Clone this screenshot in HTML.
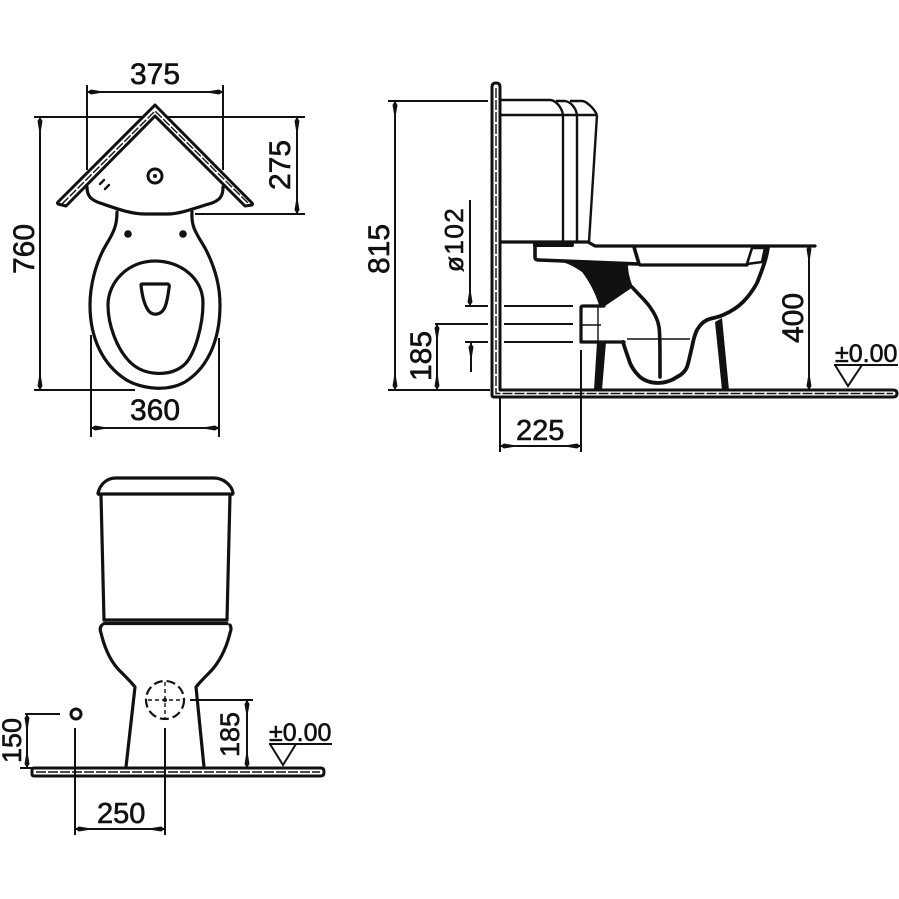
<!DOCTYPE html>
<html>
<head>
<meta charset="utf-8">
<style>
html,body{margin:0;padding:0;background:#fff}
svg{display:block}
text{font-family:"Liberation Sans",sans-serif;font-size:30px;fill:#111;stroke:#111;stroke-width:.6px}
.t{font-size:25px}
.a{fill:none;stroke:#111;stroke-width:3.2;stroke-linejoin:round;stroke-linecap:round}
.b{fill:none;stroke:#111;stroke-width:2.4;stroke-linejoin:round}
.d{fill:none;stroke:#111;stroke-width:2}
.th{fill:none;stroke:#111;stroke-width:1.4}
.m{fill:none;stroke:#111;stroke-width:2;marker-start:url(#l);marker-end:url(#l)}
.w{fill:none;stroke:#111;stroke-width:3;stroke-linejoin:round}
</style>
</head>
<body>
<svg width="899" height="899" viewBox="0 0 899 899" xmlns="http://www.w3.org/2000/svg">
<defs>
<marker id="l" markerUnits="userSpaceOnUse" markerWidth="14" markerHeight="7" refX="13" refY="3.5" orient="auto-start-reverse">
<path d="M0,2.500 L9,1 L13,3.500 L9,6 L0,4.500 Z" fill="#111"/>
</marker>
</defs>

<!-- TOP VIEW dimensions -->
<path class="d" d="M87,85V170M223,85V170M34,117H143M168,117H305M195,214H305M34,390H135M91,335V437M219,338V437"/>
<path class="m" d="M87,92H223"/>
<path class="m" d="M297,117V214"/>
<path class="m" d="M40,117V390"/>
<path class="m" d="M91,428H219"/>
<text x="130" y="84">375</text>
<text x="130" y="420">360</text>
<text transform="translate(290,190) rotate(-90)">275</text>
<text transform="translate(34,274) rotate(-90)">760</text>

<!-- TOP VIEW wall -->
<path class="w" d="M66,206L58,204Q57,203 58,202L155,105L252,203Q253,204 252,205L245,206L155,116Z"/>
<path class="th" stroke-dasharray="9 2" d="M62,204L155,111L249,204"/>
<!-- tank -->
<path class="a" d="M87,187C87,196 91,200 100,203C115,208 130,214 145,214H168C180,214 195,208 212,203C220,200 223,196 223,187"/>
<circle cx="155" cy="176" r="7" fill="none" stroke="#111" stroke-width="3"/>
<circle cx="155" cy="176" r="2" fill="#111"/>
<path class="a" style="stroke-width:2.400" d="M100,184L104,180M105,189L109,185"/>
<!-- bowl -->
<path class="a" d="M117,212C117,225 114,232 106,245C96,262 90,285 90,305C90,340 104,365 125,379C140,389 170,393 188,380C208,366 220,340 220,305C220,285 214,265 205,248C197,234 191,228 192,212"/>
<path class="a" d="M155,261C128,261 108,282 108,305C108,325 117,350 131,363C145,376 170,377 184,365C195,355 203,325 203,303C203,278 180,261 155,261Z"/>
<path class="a" d="M141,285Q141,284 143,284L168,284Q170,285 169,288C168,296 167,302 165,307C161,316 152,316 148,310C144,304 142,295 141,285Z"/>
<circle cx="128" cy="234" r="3.800" fill="#111"/>
<circle cx="183" cy="234" r="3.800" fill="#111"/>

<!-- SIDE VIEW dimensions -->
<path class="d" d="M388,101H488M388,390H490M465,306H488M504,306H573M435,324H488M504,324H573M465,342H488M504,342H573M500,397V452M581,350V452"/>
<path class="d" d="M395,101V390" style="marker-start:url(#l);marker-end:url(#l)"/>
<path class="d" d="M470,200V306" style="marker-end:url(#l)"/>
<path class="m" d="M437,324V390"/>
<path class="d" d="M471,372V343" style="marker-end:url(#l)"/>
<path class="m" d="M500,446H581"/>
<path class="m" d="M809,245V390"/>
<text transform="translate(389,274) rotate(-90)">815</text>
<text transform="translate(431,381) rotate(-90)">185</text>
<text class="t" transform="translate(463,272) rotate(-90)" style="font-size:26px;letter-spacing:1.500px">ø102</text>
<text x="516" y="440" style="font-size:29px">225</text>
<text transform="translate(803,343) rotate(-90)">400</text>
<text x="835" y="362" class="t">±0.00</text>
<path class="d" d="M834,365H898M835,365L848,386L862,365"/>

<!-- wall + floor -->
<path class="w" d="M492,87Q492,83 496,83Q500,83 500,87V390H893Q897,390 897,393.500Q897,397 893,397H494Q492,397 492,395Z"/>
<path class="th" stroke-dasharray="10 2" d="M496,88V393.500H893"/>

<!-- tank side -->
<path class="b" d="M500,100H550C556,100 562,108 563,115M556,101H565C571,102 576,108 577,115M570,101H582C586,101 594,108 597,115"/>
<path class="b" d="M500,115H597"/>
<path class="b" d="M563,115V242M577,115V242M597,115L589,242"/>
<path class="a" d="M500,242H588L595,246H815"/>

<!-- bowl side -->
<path class="a" style="stroke-width:3.600" d="M535,243V257Q535,260 539,260L637,264M634,247L639,264"/>
<path class="a" style="stroke-width:4" d="M535,245H572"/>
<path d="M562,262L628,265C628,272 630,280 633,287L605,306L600,308C597,298 592,285 582,272C576,268 570,264 562,262Z" fill="#111"/>
<path class="a" style="stroke-width:3.200" d="M640,265H747"/>
<path class="a" style="stroke-width:2.600" d="M747,264L752,248H765L762,262L747,264"/>
<path class="a" style="stroke-width:3.800" d="M768,247C767,255 765,263 757,283C752,292 748,297 743,302C737,308 730,312 723,315C716,318 711,318 707,320C701,323 699,327 697,330C694,336 693,342 692,347C690,355 689,361 687,367C685,372 681,375 677,377C671,381 665,383 658,383C651,383 645,381 640,377C635,372 632,368 630,363C628,357 625,349 623,342"/>
<path class="a" style="stroke-width:3.600" d="M632,287C638,294 645,300 650,307C655,314 658,320 659,327C660,335 660,345 660,377"/>
<path class="a" d="M604,306H583Q581,306 581,308V342H624"/>
<path class="th" d="M598,306V342M581,325H601"/>
<path class="th" d="M627,339H690"/>
<path d="M597,342H606L602,390H594Z" fill="#111"/>
<path d="M715,322L722,318L729,390H722Z" fill="#111"/>

<!-- FRONT VIEW -->
<path class="a" d="M98,493C100,485 106,478 116,478H214C224,478 232,486 233,493Q233,495 230,494H100Q98,495 98,493Z"/>
<path class="a" d="M101,495L104,620M230,495L227,620"/>
<path class="a" d="M104,620H227M104,623.500H227"/>
<path class="a" d="M102,625Q99,628 101,633C105,650 112,664 122,673C127,678 131,682 135,687L126,767"/>
<path class="a" d="M230,625Q232,628 230,633C226,650 218,664 210,672C205,677 200,682 196,687L204,767"/>
<circle cx="165" cy="700" r="19" fill="none" stroke="#111" stroke-width="2.200" stroke-dasharray="9 4"/>
<path class="th" stroke-dasharray="4 3" d="M148,700H182M165,682V718"/>
<circle cx="165" cy="700" r="2" fill="#111"/>
<path class="w" d="M34,768H321Q324,768 324,772Q324,776 321,776H34Q32,776 32,774V770Q32,768 34,768Z"/>
<path class="th" stroke-dasharray="10 2" d="M36,772H320"/>
<circle cx="76" cy="714" r="5" fill="none" stroke="#111" stroke-width="3"/>
<!-- front dims -->
<path class="d" d="M190,700H253M25,714H60M20,768H32M75,728V835M165,728V835"/>
<path class="m" d="M247,700V768"/>
<path class="m" d="M27,714V768"/>
<path class="m" d="M75,829H165"/>
<text transform="translate(239,757) rotate(-90)" style="font-size:27px">185</text>
<text transform="translate(21,763) rotate(-90)" style="font-size:27px">150</text>
<text x="97" y="823" style="font-size:29px">250</text>
<text x="269" y="741" class="t">±0.00</text>
<path class="d" d="M269,744H332M270,744L283,765L296,744"/>
</svg>
</body>
</html>
